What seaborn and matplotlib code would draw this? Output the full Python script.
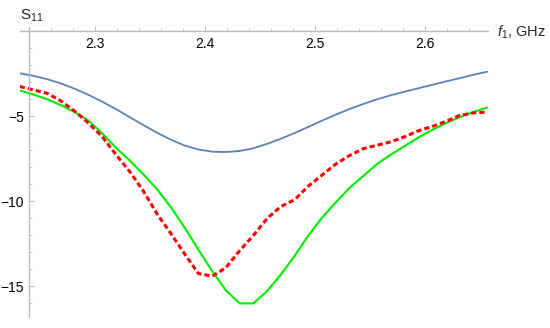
import numpy as np
import pandas as pd
import matplotlib
matplotlib.use("Agg")
import matplotlib.pyplot as plt
import seaborn as sns
from matplotlib.ticker import MultipleLocator, FixedLocator

# Frequency grid (GHz)
freq = [2.23125 + 0.0125 * k for k in range(35)]

s11_blue = [-2.47, -2.62, -2.82, -3.07, -3.38, -3.74, -4.14, -4.58, -5.05, -5.52,
            -5.97, -6.38, -6.72, -6.95, -7.08, -7.1, -7.04, -6.88, -6.62, -6.32,
            -5.98, -5.62, -5.25, -4.9, -4.57, -4.27, -4.0, -3.76, -3.55, -3.35,
            -3.15, -2.95, -2.76, -2.56, -2.38]

s11_green = [-3.48, -3.72, -4.0, -4.35, -4.75, -5.25, -6.0, -6.85, -7.6, -8.42,
             -9.3, -10.35, -11.55, -12.85, -14.1, -15.24, -16.0, -16.0, -15.27, -14.3,
             -13.2, -12.0, -10.95, -10.05, -9.2, -8.5, -7.8, -7.25, -6.75, -6.25,
             -5.8, -5.4, -5.05, -4.75, -4.48]

s11_red = [-3.25, -3.45, -3.65, -4.1, -4.7, -5.4, -6.2, -7.25, -8.25, -9.4,
           -10.75, -11.9, -13.1, -14.25, -14.4, -13.9, -12.9, -12.0, -11.0, -10.3,
           -9.9, -9.1, -8.45, -7.8, -7.3, -6.9, -6.7, -6.5, -6.2, -5.85,
           -5.6, -5.3, -4.95, -4.8, -4.75]

x_ticks = [2.3, 2.4, 2.5, 2.6]
y_ticks = [-5, -10, -15]
x_label = r"$\mathit{f}_1$, GHz"
y_label = r"$\mathrm{S}_{11}$"

sns.set_style("white")
plt.rcParams['font.family'] = ['Liberation Sans', 'DejaVu Sans']
plt.rcParams['mathtext.fontset'] = 'custom'
plt.rcParams['mathtext.rm'] = 'Liberation Sans'
plt.rcParams['mathtext.it'] = 'Liberation Sans:italic'

df = pd.DataFrame({"f": freq, "blue": s11_blue, "green": s11_green, "red": s11_red})

fig = plt.figure(figsize=(5.5, 3.28), dpi=100)
ax = fig.add_axes([20/550, 11/328, 468/550, 290/328])

sns.lineplot(data=df, x="f", y="blue", ax=ax, color="#5E81B5", lw=1.3)
sns.lineplot(data=df, x="f", y="green", ax=ax, color="#00EE00", lw=1.5)
sns.lineplot(data=df, x="f", y="red", ax=ax, color="#FF0000", lw=2.2,
             linestyle=(0, (1.7, 1.0)))

ax.set_xlim(2.2315, 2.657)
ax.set_ylim(-16.8, 0.25)
ax.set_xlabel("")
ax.set_ylabel("")

axis_col = "#BBBBBB"
for s in ["top", "right"]:
    ax.spines[s].set_visible(False)
ax.spines["bottom"].set_position(("data", 0))
ax.spines["left"].set_position(("data", 2.24))
for s in ["bottom", "left"]:
    ax.spines[s].set_color(axis_col)
    ax.spines[s].set_linewidth(1.0)

ax.xaxis.set_major_locator(FixedLocator(x_ticks))
ax.xaxis.set_minor_locator(MultipleLocator(0.02))
ax.yaxis.set_major_locator(FixedLocator(y_ticks))
ax.yaxis.set_minor_locator(MultipleLocator(1))
ax.set_xticklabels([f"{v:g}" for v in x_ticks])
ax.set_yticklabels([f"\u2212{abs(v)}" for v in y_ticks])
ax.tick_params(axis="both", which="major", direction="in", length=3.5, width=0.8,
               color=axis_col, labelsize=10, labelcolor="black", pad=4)
ax.tick_params(axis="both", which="minor", direction="in", length=2, width=0.6,
               color=axis_col)
ax.tick_params(axis="both", which="both", bottom=True, left=True)

fig.text(20/550, 1 - 20/328, y_label, fontsize=11, ha="left", va="baseline")
fig.text(497/550, 1 - 32/328, x_label, fontsize=10.5, ha="left", va="center")

fig.savefig("out.png", dpi=100)
